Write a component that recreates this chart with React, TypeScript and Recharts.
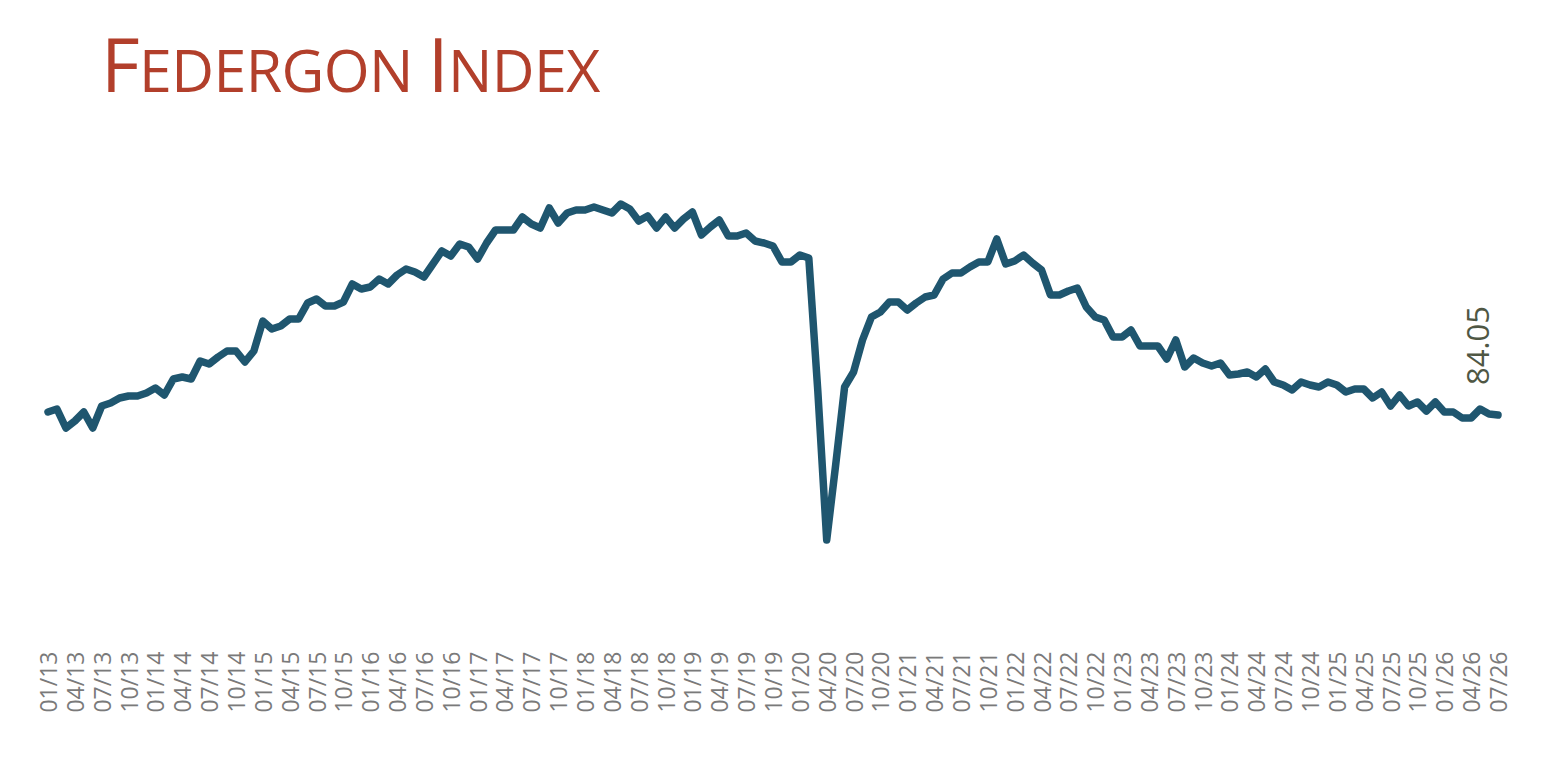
import React from "react";
import { LineChart, Line, XAxis, YAxis } from "recharts";

// monthly index values, 01/2013 .. 07/2026
const indexValues = [
  84.35, 84.65, 82.75, 83.45, 84.35, 82.75, 84.95, 85.25, 85.75, 85.95, 85.95, 86.25,
  86.75, 86.05, 87.65, 87.85, 87.65, 89.45, 89.15, 89.85, 90.45, 90.45, 89.35, 90.45,
  93.45, 92.65, 92.95, 93.65, 93.65, 95.25, 95.65, 94.95, 94.95, 95.35, 97.15, 96.65,
  96.85, 97.65, 97.15, 98.05, 98.65, 98.35, 97.85, 99.15, 100.45, 99.95, 101.15, 100.85,
  99.65, 101.25, 102.55, 102.55, 102.55, 103.85, 103.15, 102.75, 104.75, 103.25, 104.25, 104.55,
  104.55, 104.85, 104.55, 104.25, 105.15, 104.65, 103.45, 103.95, 102.75, 103.85, 102.75, 103.65,
  104.35, 102.05, 102.85, 103.55, 101.95, 101.95, 102.25, 101.45, 101.25, 100.95, 99.35, 99.35,
  100.05, 99.75, 86.55, 71.55, 79.05, 86.85, 88.35, 91.55, 93.85, 94.35, 95.35, 95.35,
  94.55, 95.25, 95.85, 96.05, 97.65, 98.25, 98.25, 98.85, 99.35, 99.35, 101.65, 99.15,
  99.45, 100.05, 99.25, 98.55, 96.05, 96.05, 96.45, 96.75, 94.85, 93.85, 93.55, 91.85,
  91.85, 92.55, 90.95, 90.95, 90.95, 89.65, 91.55, 88.85, 89.75, 89.25, 88.95, 89.25,
  88.05, 88.15, 88.35, 87.85, 88.65, 87.35, 87.05, 86.55, 87.35, 87.05, 86.85, 87.35,
  87.05, 86.35, 86.65, 86.65, 85.75, 86.35, 84.95, 86.05, 84.95, 85.35, 84.45, 85.35,
  84.35, 84.35, 83.75, 83.75, 84.65, 84.15, 84.05,
];

const START_YEAR = 2013;
const monthLabels = indexValues.map((_, i) => {
  const m = (i % 12) + 1;
  const y = (START_YEAR + Math.floor(i / 12)) % 100;
  return `${String(m).padStart(2, "0")}/${String(y).padStart(2, "0")}`;
});

const data = monthLabels.map((month, i) => ({ month, value: indexValues[i] }));

const LINE_COLOR = "#1f566f";
const TITLE_COLOR = "#b23f2b";

const MonthTick = (props: any) => {
  const { x, y, payload } = props;
  const ty = y + 88;
  return (
    <text
      x={x}
      y={ty}
      transform={`rotate(-90, ${x}, ${ty})`}
      textAnchor="end"
      dominantBaseline="central"
      fontFamily="'Open Sans', sans-serif"
      fontSize={23}
      fontWeight={500}
      fill="#7a7a7a"
    >
      {payload.value}
    </text>
  );
};

const LastLabel = (props: any) => {
  const { x, y, index, value } = props;
  if (index !== indexValues.length - 1) return null;
  const lx = x - 21;
  const ly = y - 30;
  return (
    <text
      x={lx}
      y={ly}
      transform={`rotate(-90, ${lx}, ${ly})`}
      textAnchor="start"
      dominantBaseline="central"
      fontFamily="'Open Sans', sans-serif"
      fontSize={31}
      fontWeight={500}
      fill="#4f5744"
    >
      {Number(value).toFixed(2)}
    </text>
  );
};

export default function App() {
  return (
    <div style={{ position: "absolute", left: 0, top: 0, width: 1561, height: 757, background: "#fff" }}>
      <svg width={1561} height={120} style={{ position: "absolute", left: 0, top: 0 }}>
        <text x={101} y={92} fontFamily="'Open Sans', sans-serif" fontWeight={400} fill={TITLE_COLOR} letterSpacing={-0.6}>
          <tspan fontSize={75}>F</tspan>
          <tspan fontSize={59}>EDERGON </tspan>
          <tspan fontSize={75}>I</tspan>
          <tspan fontSize={59}>NDEX</tspan>
        </text>
      </svg>
      <LineChart
        width={1561}
        height={757}
        data={data}
        margin={{ top: 185.5, right: 63, bottom: 0, left: 48 }}
      >
        <XAxis
          dataKey="month"
          interval={2}
          axisLine={false}
          tickLine={false}
          height={201.5}
          padding={{ left: 0, right: 0 }}
          tick={<MonthTick />}
        />
        <YAxis hide domain={[70, 107]} />
        <Line
          type="linear"
          dataKey="value"
          stroke={LINE_COLOR}
          strokeWidth={7.5}
          strokeLinejoin="round"
          strokeLinecap="round"
          dot={false}
          activeDot={false}
          label={<LastLabel />}
          isAnimationActive={false}
        />
      </LineChart>
    </div>
  );
}
